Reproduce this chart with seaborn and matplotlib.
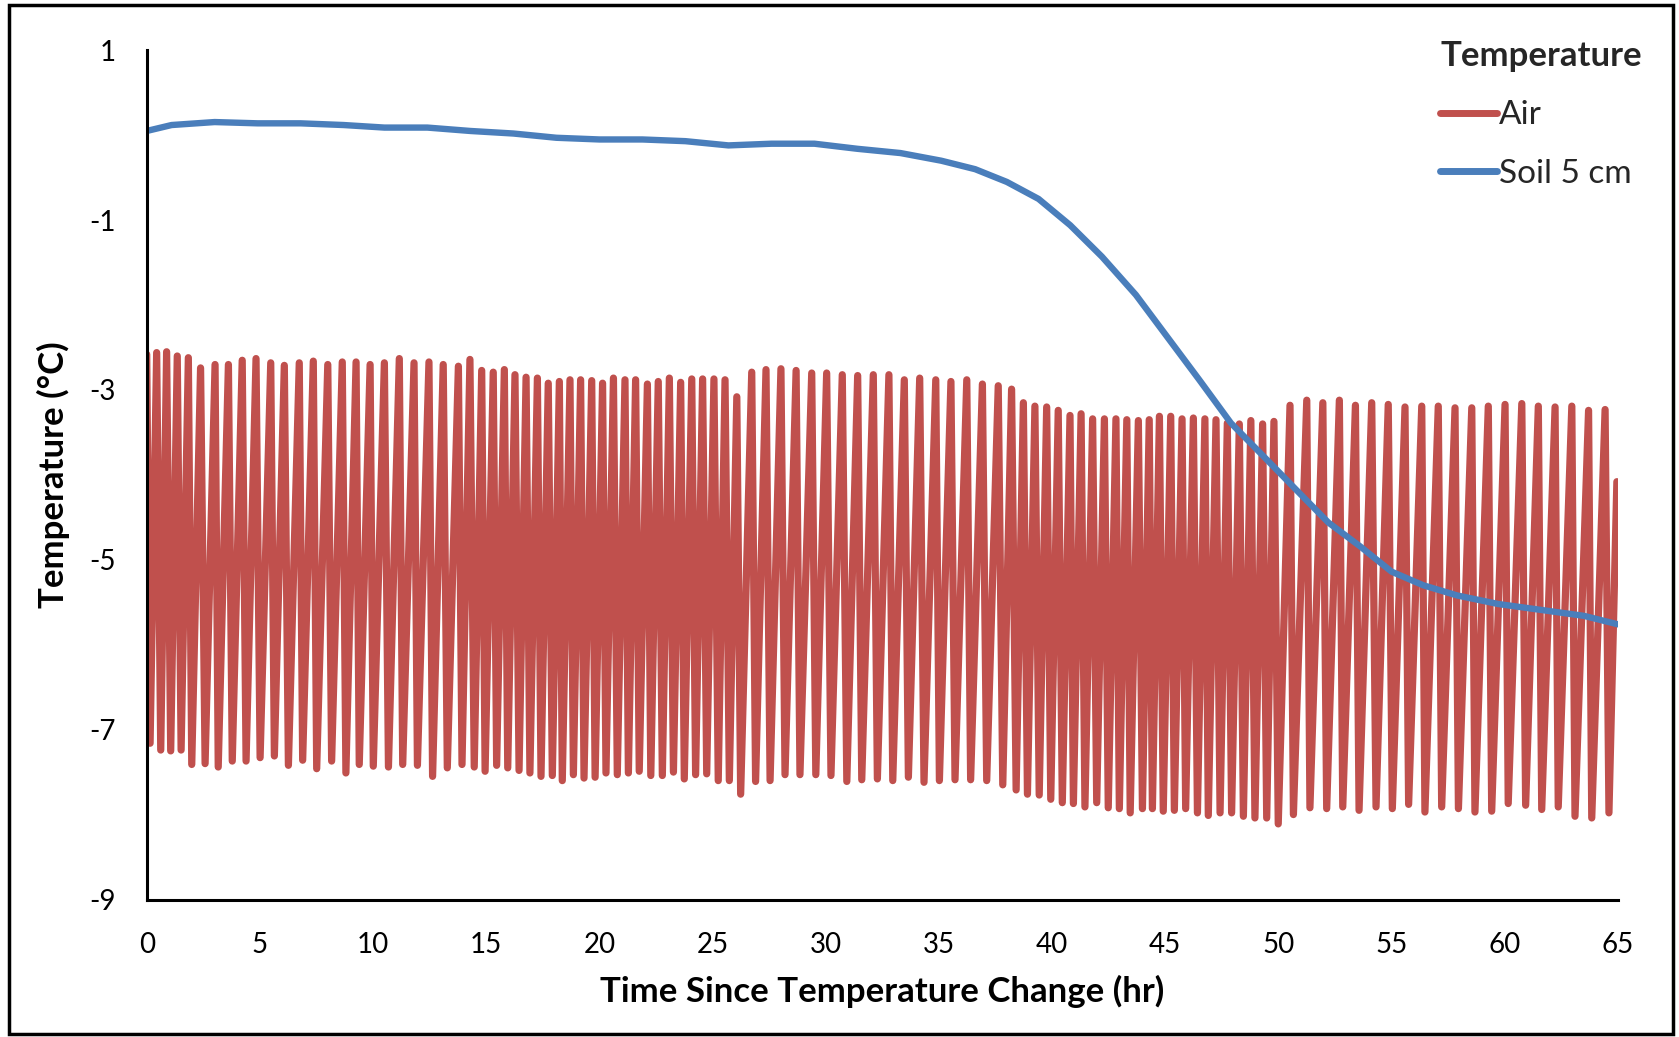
import numpy as np
import pandas as pd
import matplotlib
matplotlib.use("Agg")
import matplotlib.pyplot as plt
import seaborn as sns
from matplotlib.patches import Rectangle
from matplotlib.lines import Line2D

# ---------------- data ----------------
air_peak_t = [0.00, 0.44, 0.88, 1.35, 1.84, 2.38, 3.02, 3.61, 4.22, 4.83, 5.48, 6.08,
              6.74, 7.36, 8.00, 8.64, 9.25, 9.87, 10.50, 11.16, 11.81, 12.47, 13.10, 13.77,
              14.28, 14.80, 15.31, 15.80, 16.27, 16.76, 17.26, 17.74, 18.23, 18.70, 19.17, 19.66,
              20.14, 20.62, 21.13, 21.60, 22.12, 22.60, 23.09, 23.59, 24.08, 24.56, 25.06, 25.55,
              26.07, 26.73, 27.36, 28.02, 28.69, 29.38, 30.04, 30.73, 31.41, 32.10, 32.79, 33.47,
              34.15, 34.86, 35.53, 36.23, 36.92, 37.62, 38.21, 38.73, 39.24, 39.76, 40.27, 40.79,
              41.28, 41.79, 42.31, 42.82, 43.30, 43.81, 44.29, 44.74, 45.24, 45.74, 46.24, 46.75,
              47.24, 47.74, 48.27, 48.78, 49.30, 49.80, 50.51, 51.25, 51.96, 52.69, 53.40, 54.12,
              54.85, 55.59, 56.33, 57.06, 57.80, 58.54, 59.27, 60.01, 60.75, 61.48, 62.22, 62.96,
              63.70, 64.43]
air_peak_v = [-2.58, -2.56, -2.55, -2.60, -2.62, -2.74, -2.70, -2.70, -2.65, -2.63, -2.68, -2.71,
              -2.68, -2.66, -2.70, -2.67, -2.67, -2.70, -2.68, -2.63, -2.68, -2.67, -2.70, -2.72,
              -2.64, -2.77, -2.79, -2.76, -2.82, -2.85, -2.86, -2.92, -2.90, -2.88, -2.88, -2.89,
              -2.92, -2.86, -2.88, -2.88, -2.93, -2.90, -2.86, -2.91, -2.87, -2.87, -2.87, -2.88,
              -3.08, -2.79, -2.76, -2.75, -2.77, -2.80, -2.80, -2.82, -2.83, -2.82, -2.82, -2.88,
              -2.86, -2.88, -2.90, -2.88, -2.93, -2.95, -2.99, -3.15, -3.19, -3.20, -3.24, -3.30,
              -3.28, -3.34, -3.34, -3.34, -3.35, -3.36, -3.35, -3.31, -3.31, -3.34, -3.33, -3.34,
              -3.35, -3.39, -3.40, -3.36, -3.40, -3.37, -3.18, -3.12, -3.15, -3.12, -3.18, -3.15,
              -3.17, -3.20, -3.19, -3.19, -3.21, -3.21, -3.19, -3.17, -3.16, -3.19, -3.20, -3.19,
              -3.24, -3.23]
air_trough_t = [0.15, 0.62, 1.06, 1.52, 1.99, 2.58, 3.16, 3.78, 4.39, 5.01, 5.64, 6.26,
                6.89, 7.51, 8.17, 8.80, 9.39, 10.01, 10.68, 11.31, 11.96, 12.63, 13.28, 13.93,
                14.47, 14.95, 15.46, 15.95, 16.45, 16.93, 17.42, 17.92, 18.36, 18.85, 19.32, 19.81,
                20.29, 20.79, 21.28, 21.76, 22.27, 22.78, 23.27, 23.75, 24.25, 24.74, 25.25, 25.74,
                26.24, 26.90, 27.54, 28.20, 28.86, 29.56, 30.23, 30.93, 31.59, 32.28, 32.96, 33.65,
                34.34, 35.02, 35.71, 36.40, 37.11, 37.82, 38.41, 38.91, 39.43, 39.94, 40.45, 40.94,
                41.45, 41.97, 42.48, 42.97, 43.45, 43.99, 44.43, 44.91, 45.40, 45.90, 46.42, 46.90,
                47.42, 47.93, 48.45, 48.96, 49.48, 49.99, 50.66, 51.39, 52.13, 52.84, 53.56, 54.31,
                55.03, 55.75, 56.47, 57.21, 57.95, 58.68, 59.42, 60.15, 60.92, 61.63, 62.36, 63.10,
                63.84, 64.60]
air_trough_v = [-7.16, -7.24, -7.25, -7.24, -7.41, -7.40, -7.44, -7.37, -7.37, -7.33, -7.31, -7.42,
                -7.36, -7.46, -7.37, -7.51, -7.41, -7.43, -7.44, -7.41, -7.42, -7.55, -7.45, -7.41,
                -7.44, -7.49, -7.42, -7.45, -7.48, -7.51, -7.55, -7.54, -7.60, -7.53, -7.57, -7.56,
                -7.51, -7.53, -7.51, -7.49, -7.54, -7.54, -7.50, -7.58, -7.53, -7.52, -7.60, -7.60,
                -7.76, -7.61, -7.60, -7.53, -7.53, -7.53, -7.54, -7.61, -7.59, -7.58, -7.60, -7.56,
                -7.62, -7.60, -7.59, -7.59, -7.60, -7.65, -7.71, -7.76, -7.77, -7.82, -7.86, -7.87,
                -7.91, -7.86, -7.92, -7.93, -7.98, -7.93, -7.93, -7.96, -7.95, -7.93, -7.98, -8.01,
                -7.98, -7.98, -8.02, -8.04, -8.04, -8.11, -8.00, -7.92, -7.93, -7.91, -7.95, -7.91,
                -7.93, -7.88, -7.97, -7.91, -7.93, -7.97, -7.96, -7.87, -7.89, -7.94, -7.91, -8.02,
                -8.04, -7.98]
air_end_t = [64.95]
air_end_v = [-4.08]

soil_t = [0.0, 1.1, 3.0, 4.9, 6.8, 8.7, 10.5, 12.4, 14.3, 16.2, 18.1, 20.0, 21.9, 23.8,
          25.7, 27.6, 29.5, 31.4, 33.3, 35.1, 36.6, 38.0, 39.4, 40.8, 42.2, 43.7, 45.1,
          46.5, 47.9, 49.3, 50.8, 52.2, 53.6, 55.0, 56.4, 57.9, 59.7, 61.6, 63.5, 65.0]
soil_v = [0.05, 0.12, 0.155, 0.14, 0.14, 0.12, 0.09, 0.09, 0.05, 0.02, -0.03, -0.05, -0.05,
          -0.07, -0.12, -0.10, -0.10, -0.16, -0.21, -0.30, -0.40, -0.55, -0.75, -1.06, -1.43,
          -1.88, -2.38, -2.88, -3.39, -3.77, -4.18, -4.56, -4.84, -5.14, -5.30, -5.42, -5.52,
          -5.59, -5.66, -5.76]

x_ticks = [0, 5, 10, 15, 20, 25, 30, 35, 40, 45, 50, 55, 60, 65]
y_ticks = [1, -1, -3, -5, -7, -9]
series_names = ["Air", "Soil 5 cm"]
colors = {"Air": "#C0504D", "Soil 5 cm": "#4A7EBB"}

# ---------------- build tables ----------------
air_t = np.array(air_peak_t + air_trough_t + air_end_t)
air_v = np.array(air_peak_v + air_trough_v + air_end_v)
order = np.argsort(air_t)
air_df = pd.DataFrame({"t": air_t[order], "v": air_v[order], "series": "Air"})
soil_df = pd.DataFrame({"t": soil_t, "v": soil_v, "series": "Soil 5 cm"})

# ---------------- plot ----------------
sns.set_theme(style="white")
plt.rcParams["font.family"] = ["Lato", "DejaVu Sans"]

W, H = 1679, 1037
fig = plt.figure(figsize=(W / 100, H / 100), dpi=100)
ax = fig.add_axes([146.7 / W, 137.5 / H, (1618 - 146.7) / W, (899.5 - 50.3) / H])

sns.lineplot(data=air_df, x="t", y="v", ax=ax, color=colors["Air"], lw=5.2,
             sort=False, estimator=None, legend=False)
sns.lineplot(data=soil_df, x="t", y="v", ax=ax, color=colors["Soil 5 cm"], lw=4.6,
             sort=False, estimator=None, legend=False)

ax.set_xlim(0, 65)
ax.set_ylim(-9, 1)
ax.set_xticks(x_ticks)
ax.set_yticks(y_ticks)
ax.set_xticklabels([str(v) for v in x_ticks])
ax.set_yticklabels([str(v) for v in y_ticks])
for s in ["top", "right"]:
    ax.spines[s].set_visible(False)
for s in ["left", "bottom"]:
    ax.spines[s].set_color("black")
    ax.spines[s].set_linewidth(2.2)
ax.tick_params(axis="both", which="major", direction="out", length=7, width=2.2,
               color="black", labelsize=20, labelcolor="black")
ax.tick_params(axis="y", pad=15.5)
ax.tick_params(axis="x", pad=16.5)
ax.set_xlabel("Time Since Temperature Change (hr)", fontsize=25, fontweight="bold",
              labelpad=12, color="black")
ax.set_ylabel("Temperature (°C)", fontsize=25, fontweight="bold", labelpad=13.6, color="black")
ax.grid(False)

handles = [Line2D([0], [0], color=colors[n], lw=5, solid_capstyle="round") for n in series_names]
leg = fig.legend(handles, series_names, title="Temperature", loc="upper right",
                 bbox_to_anchor=(1642 / W, 1 - 40 / H), frameon=False, fontsize=24,
                 title_fontproperties={"weight": "bold", "size": 25},
                 handlelength=1.7, handletextpad=0.05, labelspacing=0.85, borderpad=0,
                 borderaxespad=0)
leg._legend_box.align = "left"

fig.patches.append(Rectangle((9 / W, 3 / H), (1673 - 9) / W, (1032 - 3) / H,
                             transform=fig.transFigure, fill=False, edgecolor="black",
                             linewidth=2.5, zorder=10))

fig.savefig("out.png", dpi=100)
